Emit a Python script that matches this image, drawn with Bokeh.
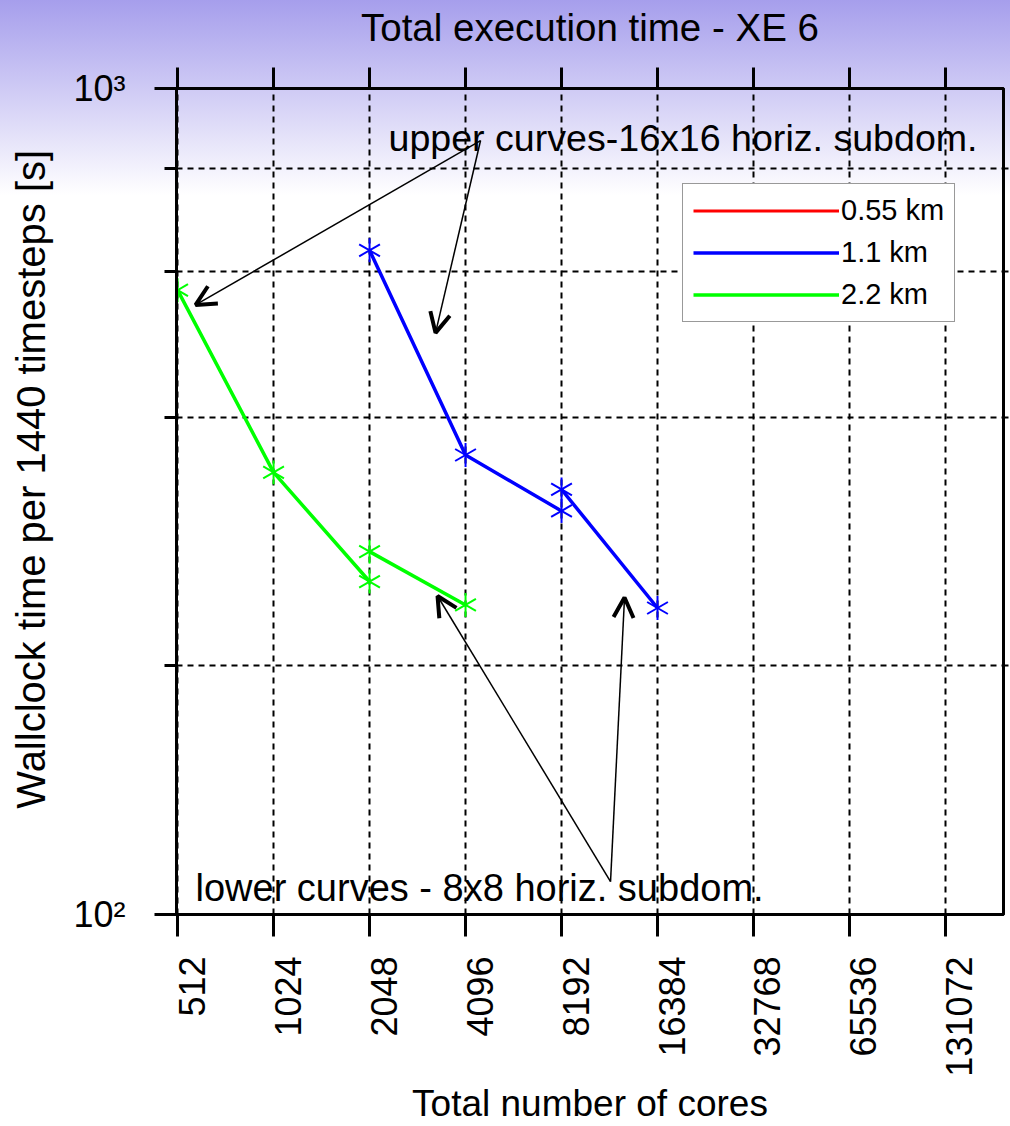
import math
from bokeh.plotting import figure
from bokeh.models import (FixedTicker, LogAxis, LogScale, Label, Arrow, OpenHead,
                          Legend, LegendItem, Range1d)
from bokeh.embed import file_html
from bokeh.resources import INLINE

# ---------------- data ----------------
# 16x16 horizontal subdomains ("upper curves") and 8x8 ("lower curves")
green_cores_16 = [512, 1024, 2048]
green_time_16 = [570, 343, 253]
green_cores_8 = [2048, 4096]
green_time_8 = [275, 237]

blue_cores_16 = [2048, 4096, 8192]
blue_time_16 = [637, 360, 308]
blue_cores_8 = [8192, 16384]
blue_time_8 = [327, 235]

# 0.55 km: listed in the legend, no points drawn
red_cores = [512]
red_time = [float("nan")]

series_labels = ["0.55 km", "1.1 km", "2.2 km"]

x_ticks = [512, 1024, 2048, 4096, 8192, 16384, 32768, 65536, 131072]
x_tick_labels = ["512", "1024", "2048", "4096", "8192", "16384", "32768", "65536", "131072"]
y_ticks = [100, 1000]
y_tick_labels = ["10\u00b2", "10\u00b3"]
y_minor_ticks = [200, 400, 600, 800]

# annotation arrows (data coordinates)
upper_arrow_from_x = [4565, 4565]
upper_arrow_from_y = [865, 865]
upper_arrow_to_x = [583, 3298]
upper_arrow_to_y = [547, 506]
lower_arrow_from_x = [11670, 11670]
lower_arrow_from_y = [109.6, 109.6]
lower_arrow_to_x = [3346, 12911]
lower_arrow_to_y = [243, 242]

title_text = "Total execution time - XE 6"
xlabel_text = "Total number of cores"
ylabel_text = "Wallclock time per 1440 timesteps [s]"
upper_note = "upper curves-16x16 horiz. subdom."
lower_note = "lower curves - 8x8 horiz. subdom."

# ---------------- layout ----------------
W, H = 1010, 1126
FL, FT, FW, FH = 176, 88, 827, 827
X_LO, X_HI = 508, 199300
Y_LO, Y_HI = 100, 1000
FONT = "Liberation Sans"


def x_at(px):
    return X_LO * (X_HI / X_LO) ** ((px - FL) / FW)


def y_at(py):
    lo, hi = math.log10(Y_LO), math.log10(Y_HI)
    return 10 ** (hi - (py - FT) / FH * (hi - lo))


p = figure(width=W, height=H, x_axis_type="log", y_axis_type="log", title=None,
           x_range=Range1d(X_LO, X_HI), y_range=Range1d(Y_LO, Y_HI),
           output_backend="svg", toolbar_location=None,
           min_border_left=FL, min_border_top=FT,
           min_border_right=W - FL - FW, min_border_bottom=H - FT - FH)

p.background_fill_alpha = 0
p.border_fill_alpha = 0
p.styles = {"background-image": "linear-gradient(to bottom, #a69eec 0px, #ffffff 195px)"}
p.outline_line_color = "black"
p.outline_line_width = 3

xt = FixedTicker(ticks=x_ticks)
yt = FixedTicker(ticks=y_ticks, minor_ticks=y_minor_ticks)

# bottom axis: ticks only
xa = p.xaxis[0]
xa.ticker = xt
xa.major_label_overrides = {t: "" for t in x_ticks}
xa.major_label_standoff = 0
xa.major_tick_out = 22
xa.major_tick_in = 0
xa.major_tick_line_width = 3
xa.minor_tick_line_color = None
xa.axis_line_width = 3

# bottom axis: labels (range shifted so labels sit just right of each tick)
shift = 2 ** (14 / 96)
p.extra_x_ranges = {"lab": Range1d(X_LO / shift, X_HI / shift)}
p.extra_x_scales = {"lab": LogScale()}
la = LogAxis(x_range_name="lab", ticker=FixedTicker(ticks=x_ticks),
             major_label_overrides=dict(zip(x_ticks, x_tick_labels)),
             major_label_orientation=math.pi / 2, major_label_standoff=20,
             major_tick_line_color=None, major_tick_out=0, major_tick_in=0,
             minor_tick_line_color=None, axis_line_color=None,
             major_label_text_font=FONT, major_label_text_font_size="36px",
             major_label_text_color="black",
             axis_label=xlabel_text, axis_label_standoff=3,
             axis_label_text_font=FONT, axis_label_text_font_size="37px",
             axis_label_text_font_style="normal", axis_label_text_color="black")
p.add_layout(la, "below")

# left axis
ya = p.yaxis[0]
ya.ticker = yt
ya.major_label_overrides = dict(zip(y_ticks, y_tick_labels))
ya.major_tick_out = 22
ya.major_tick_in = 0
ya.minor_tick_out = 12
ya.minor_tick_in = 0
ya.major_tick_line_width = 3
ya.minor_tick_line_width = 3
ya.axis_line_width = 3
ya.major_label_standoff = 29
ya.major_label_text_font = FONT
ya.major_label_text_font_size = "36px"
ya.major_label_text_color = "black"
ya.axis_label = "\u00a0\u00a0\u00a0\u00a0" + ylabel_text
ya.axis_label_standoff = 17
ya.axis_label_text_font = FONT
ya.axis_label_text_font_size = "40px"
ya.axis_label_text_font_style = "normal"
ya.axis_label_text_color = "black"

# top axis: ticks, and the chart title as its label
ta = LogAxis(ticker=xt, major_label_overrides={t: "" for t in x_ticks},
             major_tick_out=21, major_tick_in=0, major_tick_line_width=3,
             minor_tick_line_color=None, axis_line_width=3, major_label_standoff=0,
             axis_label=title_text, axis_label_standoff=19,
             axis_label_text_font=FONT, axis_label_text_font_size="38.5px",
             axis_label_text_font_style="normal", axis_label_text_color="black")
p.add_layout(ta, "above")

# right axis
ra = LogAxis(ticker=yt, major_label_overrides={t: "" for t in y_ticks},
             major_tick_line_color=None, minor_tick_out=5, minor_tick_in=0,
             minor_tick_line_width=2, axis_line_width=3, major_label_standoff=0)
p.add_layout(ra, "right")

# grids
p.xgrid.ticker = xt
p.xgrid.grid_line_color = "black"
p.xgrid.grid_line_dash = "6 5"
p.xgrid.grid_line_width = 2
p.ygrid.ticker = yt
p.ygrid.grid_line_color = None
p.ygrid.minor_grid_line_color = "black"
p.ygrid.minor_grid_line_dash = "6 5"
p.ygrid.minor_grid_line_width = 2

# series
r_red = p.line(x=red_cores, y=red_time, line_color="#ff0000", line_width=3)
r_blue = p.line(x=blue_cores_16, y=blue_time_16, line_color="#0000ff", line_width=3.5)
p.line(x=blue_cores_8, y=blue_time_8, line_color="#0000ff", line_width=3.5)
r_green = p.line(x=green_cores_16, y=green_time_16, line_color="#00ff00", line_width=3.5)
p.line(x=green_cores_8, y=green_time_8, line_color="#00ff00", line_width=3.5)

for cx, cy, col in [(blue_cores_16 + blue_cores_8, blue_time_16 + blue_time_8, "#0000ff"),
                    (green_cores_16 + green_cores_8, green_time_16 + green_time_8, "#00ff00")]:
    for ang in (math.pi / 6, -math.pi / 6, math.pi / 2):
        p.scatter(x=cx, y=cy, marker="dash", angle=ang, size=24,
                  line_color=col, line_width=2)

legend = Legend(items=[LegendItem(label=series_labels[0], renderers=[r_red]),
                       LegendItem(label=series_labels[1], renderers=[r_blue]),
                       LegendItem(label=series_labels[2], renderers=[r_green])],
                location=(506, 592), margin=0, padding=10, spacing=9,
                glyph_width=146, glyph_height=33, label_height=33, label_standoff=2,
                label_text_font=FONT, label_text_font_size="29px",
                label_text_color="black",
                border_line_color="#333333", border_line_width=1,
                background_fill_color="white", background_fill_alpha=1)
p.add_layout(legend)

# arrows
for fx, fy, tx, ty in zip(upper_arrow_from_x + lower_arrow_from_x,
                          upper_arrow_from_y + lower_arrow_from_y,
                          upper_arrow_to_x + lower_arrow_to_x,
                          upper_arrow_to_y + lower_arrow_to_y):
    p.add_layout(Arrow(x_start=fx, y_start=fy, x_end=tx, y_end=ty,
                       line_color="black", line_width=1.5,
                       end=OpenHead(size=20, line_width=4, line_color="black")))

# notes inside the frame
p.add_layout(Label(x=x_at(388), y=y_at(138), text=upper_note, text_align="left",
                   text_baseline="alphabetic", text_font=FONT, text_font_size="37.6px",
                   text_color="black"))
p.add_layout(Label(x=x_at(195), y=y_at(888), text=lower_note, text_align="left",
                   text_baseline="alphabetic", text_font=FONT, text_font_size="38px",
                   text_color="black"))

open("out.html", "w").write(file_html(p, INLINE))
